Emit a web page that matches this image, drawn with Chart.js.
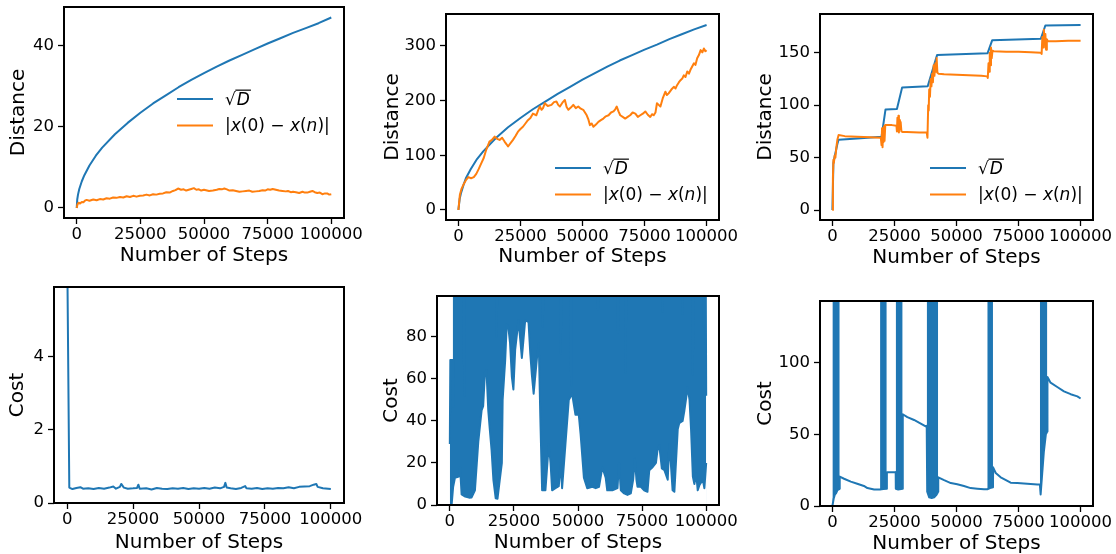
<!DOCTYPE html>
<html>
<head>
<meta charset="utf-8">
<script src="https://cdn.jsdelivr.net/npm/chart.js@4.4.0/dist/chart.umd.min.js"></script>
<style>
  html, body { margin: 0; padding: 0; background: #fff; overflow: hidden; width: 1116px; height: 554px; position: relative; }
  canvas { position: absolute; }
</style>
</head>
<body>
<script>
const BLUE = '#1f77b4';
const ORANGE = '#ff7f0e';

// shared x axis
const xTicks = [0, 25000, 50000, 75000, 100000];

// panel 1 (top left): distance
const p1Ticks = [0, 20, 40];
const p1SqrtX = [0, 200, 500, 1000, 2000, 3000, 5000, 7500, 10000, 15000, 20000, 25000, 30000, 35000, 40000, 45000, 50000, 55000, 60000, 65000, 70000, 75000, 80000, 85000, 90000, 95000, 100000];
const p1SqrtY = [0, 2.1, 3.3, 4.7, 6.6, 8.1, 10.5, 12.9, 14.9, 18.2, 21.0, 23.5, 25.8, 27.8, 29.8, 31.6, 33.3, 34.9, 36.4, 37.8, 39.2, 40.6, 41.9, 43.2, 44.4, 45.6, 47.0];
const p1AbsX = [
  0, 300, 700, 1300, 2000, 2600, 3200, 3900, 5000, 6500,
  7800, 9100, 10400, 11700, 13000, 14300, 15600, 17000, 18300, 19600,
  20900, 22200, 23500, 24800, 26100, 27400, 28700, 30000, 31300, 32600,
  33900, 35200, 36500, 37800, 38800, 39800, 41000, 42000, 43000, 44000,
  45000, 46000, 47000, 48000, 48900, 50000, 50800, 52000, 53500, 55000,
  56000, 57000, 58000, 59000, 60000, 61300, 62600, 63900, 65200, 66500,
  67800, 69000, 70400, 71700, 73000, 74000, 75000, 76000, 77000, 78200,
  79500, 80800, 82100, 83000, 84100, 85000, 86100, 87400, 88700, 89600,
  90600, 91600, 92600, 93500, 94500, 95500, 96500, 97500, 98400, 99200,
  100000];
const p1AbsY = [
  0, 0.9, 1.3, 1.1, 1.5, 1.4, 1.8, 2.0, 1.8, 2.1,
  1.9, 2.2, 2.1, 2.4, 2.3, 2.6, 2.5, 2.7, 2.6, 2.9,
  2.7, 3.0, 2.8, 3.0, 3.1, 3.3, 3.1, 3.4, 3.3, 3.5,
  3.6, 3.9, 3.8, 4.2, 4.4, 4.8, 4.5, 4.6, 4.3, 4.5,
  4.7, 4.9, 4.5, 4.6, 4.3, 4.5, 4.4, 4.2, 4.3, 4.5,
  4.7, 4.6, 4.8, 4.6, 4.3, 4.4, 4.2, 4.0, 4.1, 4.2,
  4.3, 4.0, 4.1, 4.2, 4.4, 4.3, 4.6, 4.5, 4.7, 4.5,
  4.3, 4.2, 4.1, 4.2, 3.9, 4.0, 3.9, 3.7, 4.0, 3.8,
  3.8, 4.0, 4.2, 3.9, 3.7, 3.8, 3.4, 3.6, 3.6, 3.3,
  3.4];

// panel 2 (top middle): distance
const p2Ticks = [0, 100, 200, 300];
const p2SqrtX = [0, 500, 1000, 2000, 3000, 5000, 7500, 10000, 15000, 20000, 25000, 30000, 35000, 40000, 45000, 50000, 55000, 60000, 65000, 70000, 75000, 80000, 85000, 90000, 95000, 100000];
const p2SqrtY = [0, 20, 30, 45, 58, 75, 93, 107, 131, 151, 168, 184, 198, 212, 225, 238, 250, 262, 273, 283, 293, 302, 312, 321, 330, 338];
const p2AbsX = [
  0, 600, 1200, 2000, 3100, 4000, 5100, 6200, 7200, 8200,
  9200, 10200, 11200, 12500, 13500, 14600, 15600, 16600, 17600, 18600,
  19400, 20000, 21000, 22000, 23000, 24000, 25000, 26000, 27000, 28000,
  29000, 30000, 31400, 32100, 32800, 33500, 34100, 34800, 36000, 37500,
  38500, 39500, 40200, 40900, 41900, 42900, 43600, 44300, 45300, 46300,
  47300, 48300, 49300, 50300, 51000, 51700, 52400, 53000, 53700, 54400,
  55400, 56400, 57400, 58400, 59400, 60500, 61500, 62500, 63200, 63800,
  64500, 65200, 66200, 67200, 68200, 69200, 70200, 71300, 72300, 73300,
  74300, 75300, 76300, 77300, 78000, 78700, 79400, 80000, 80700, 81400,
  82400, 83400, 84000, 84700, 85800, 86800, 87500, 88100, 88800, 89500,
  90200, 90800, 91500, 92200, 92900, 93500, 94200, 94900, 95500, 96200,
  96900, 97600, 98300, 98900, 99500, 100000];
const p2AbsY = [
  0, 28, 38, 46, 55, 60, 58, 60, 66, 75,
  85, 95, 110, 125, 128, 134, 130, 128, 132, 125,
  120, 116, 122, 128, 135, 143, 148, 152, 158, 164,
  168, 176, 173, 182, 189, 183, 186, 195, 190, 192,
  197, 198, 192, 189, 196, 201, 188, 183, 187, 192,
  186, 189, 185, 183, 178, 173, 165, 155, 158, 152,
  156, 161, 164, 167, 171, 173, 178, 180, 184, 189,
  180, 173, 170, 167, 170, 173, 178, 176, 170, 173,
  176, 180, 174, 170, 175, 173, 178, 195, 192, 189,
  205, 216, 210, 213, 220, 225, 222, 228, 233, 237,
  240, 246, 243, 253, 249, 256, 262, 268, 265, 277,
  283, 292, 288, 295, 290, 292];

// panel 3 (top right): distance
const p3Ticks = [0, 50, 100, 150];
const p3SqrtX = [0, 400, 1000, 2000, 2500, 10000, 19800, 21400, 26000, 28100, 38400, 42200, 62500, 64400, 84000, 85800, 100000];
const p3SqrtY = [0, 45, 52, 63, 67, 68.2, 70, 96, 96.3, 117, 118, 148, 149.5, 162, 163.5, 176, 176.6];
const p3AbsX = [
  0, 200, 400, 600, 900, 1200, 1600, 2000, 2500, 5000,
  10000, 15000, 19500, 19800, 20000, 20200, 20400, 20600, 20800, 21000,
  21300, 22000, 24000, 25800, 26000, 26200, 26400, 26600, 26800, 27000,
  27200, 27500, 27800, 28200, 30000, 35000, 38000, 38300, 38600, 38800,
  39000, 39300, 39600, 39900, 40200, 40500, 40800, 41100, 41500, 41800,
  42000, 42300, 42800, 45000, 50000, 55000, 60000, 62400, 62600, 62900,
  63100, 63400, 63600, 63900, 64200, 64500, 65000, 70000, 75000, 80000,
  84000, 84300, 84600, 84900, 85200, 85500, 85800, 86100, 86400, 86800,
  90000, 95000, 100000];
const p3AbsY = [
  0, 30, 48, 45, 52, 50, 60, 67, 71.5, 70.5,
  70, 69.5, 69, 62, 78, 60, 74, 65, 80, 66,
  81, 81, 81, 80.5, 75, 88, 76, 90, 74, 86,
  77, 84, 75, 74.5, 74.5, 74, 74, 69, 100, 95,
  115, 108, 125, 118, 130, 122, 138, 128, 140, 132,
  145, 131, 130, 129.5, 129, 128.5, 128, 127.5, 126, 140,
  132, 150, 138, 155, 145, 152, 151.5, 151, 151, 150.5,
  150, 149, 165, 155, 172, 160, 168, 153, 163, 161,
  161, 161.5, 161.5];

// panel 4 (bottom left): cost
const p4Ticks = [0, 2, 4];
const p4CostX = [
  0, 800, 2000, 3500, 5000, 6000, 8000, 10000, 12000, 14000,
  16000, 17500, 18500, 20000, 20500, 21500, 23000, 25000, 26500, 27000,
  27500, 30000, 32000, 34000, 36000, 38000, 40000, 42000, 44000, 46000,
  48000, 50000, 52000, 54000, 56000, 58000, 59500, 60000, 60500, 62000,
  64000, 66000, 67500, 68000, 70000, 72000, 74000, 76000, 78000, 80000,
  82000, 84000, 86000, 88000, 90000, 92000, 93500, 94500, 95000, 97000,
  100000];
const p4CostY = [
  7, 0.42, 0.38, 0.41, 0.43, 0.39, 0.40, 0.38, 0.41, 0.39,
  0.42, 0.45, 0.39, 0.44, 0.52, 0.42, 0.39, 0.40, 0.41, 0.50,
  0.39, 0.40, 0.37, 0.41, 0.39, 0.38, 0.40, 0.39, 0.41, 0.38,
  0.40, 0.39, 0.41, 0.39, 0.42, 0.40, 0.44, 0.55, 0.42, 0.40,
  0.38, 0.41, 0.46, 0.40, 0.39, 0.41, 0.38, 0.40, 0.39, 0.41,
  0.40, 0.43, 0.40, 0.44, 0.45, 0.46, 0.50, 0.52, 0.44, 0.40,
  0.38];

// panel 5 (bottom middle): cost, dense band read as lower / upper envelope
const p5Ticks = [0, 20, 40, 60, 80];
const p5LowX = [
  0, 700, 1300, 2000, 3500, 4000, 4600, 6000, 7500, 8500,
  9800, 11100, 12400, 13000, 13700, 14300, 15000, 15600, 16300, 17000,
  17900, 18600, 19300, 20300, 20600, 21600, 22200, 22800, 23500, 24200,
  24800, 25500, 26800, 28100, 29400, 30700, 31400, 32000, 32700, 33300,
  34000, 34700, 35300, 36000, 37300, 38600, 39300, 39900, 41200, 42500,
  43200, 43800, 45100, 46400, 47700, 49000, 50300, 51000, 52300, 53600,
  55600, 56900, 58200, 59500, 60800, 61400, 63400, 65400, 66000, 66700,
  68000, 69300, 70600, 71500, 72200, 72800, 73200, 74500, 75800, 77100,
  77800, 79100, 80400, 81000, 81700, 82700, 83700, 85000, 85600, 86200,
  86900, 87600, 88200, 88900, 89500, 90800, 91500, 92200, 92800, 93500,
  94100, 94800, 95400, 96100, 96700, 97400, 98700, 99300, 100000];
const p5LowY = [
  0, 0, 8.7, 13, 13.5, 18, 5, 4, 3.5, 3.6,
  7, 30, 45, 47, 63, 64, 45, 36, 26, 12,
  3.2, 3, 10, 20, 50, 69, 86, 85, 77, 61,
  55, 74, 88, 70, 88, 87, 72, 62, 53, 61,
  70, 77, 42, 7, 7, 29, 20, 7, 8, 9,
  20, 8, 29, 50, 53, 43, 43, 34, 13, 8,
  8.7, 8, 8.7, 18, 13, 7, 7, 8, 20, 7,
  5.5, 4.8, 5.5, 12, 22, 12, 8.7, 8.7, 7, 6.3,
  16.6, 18, 20, 26, 28.5, 17.4, 16.6, 12, 29, 20,
  7, 6.3, 20, 36, 39, 40, 45, 51, 56, 50,
  36, 13.5, 10, 15, 7, 9.5, 12, 8, 20];
const p5HighX = [0, 200, 900, 1000, 1500, 1600, 5300, 5600, 5900, 18000, 18300, 18600, 36000, 36300, 36600, 43000, 43300, 43600, 47000, 47300, 47600, 57500, 57800, 58100, 65300, 65600, 65900, 68300, 68600, 68900, 82700, 83000, 83300, 90500, 90800, 91100, 94500, 94800, 95100, 98800, 99100, 99400, 99800, 100000];
const p5HighY = [29, 69, 69, 47, 47, 120, 120, 52, 120, 120, 80, 120, 120, 85, 120, 120, 72, 120, 120, 57, 120, 120, 93, 120, 120, 82, 120, 120, 63, 120, 120, 92, 120, 120, 91, 120, 120, 62, 120, 120, 85, 120, 120, 52];

// panel 6 (bottom right): cost, decaying curve plus oscillating bursts
const p6Ticks = [0, 50, 100];
const p6CostX = [
  0, 500, 1000, 1500, 2000, 2900, 2950, 4700, 7400, 10000,
  12700, 14100, 16800, 19200, 20500, 21900, 21950, 25500, 25550, 26500,
  28300, 28350, 30200, 32900, 35600, 37600, 38000, 38200, 39000, 40000,
  41000, 42000, 42600, 42650, 45000, 47700, 50300, 53000, 55700, 58400,
  61100, 62400, 63500, 64700, 64750, 65800, 67800, 70500, 71800, 74500,
  78500, 82600, 83600, 83900, 84200, 85200, 86000, 86600, 86650, 87900,
  90600, 93300, 96000, 98700, 100000];
const p6CostY = [
  0, 5, 8, 9, 11, 12, 20.5, 19, 17, 15.5,
  14, 12.5, 11.5, 11.5, 11.8, 12, 23.5, 23.5, 12, 11.5,
  12, 64, 62, 60, 57.5, 55.5, 56, 10, 6, 5.5,
  6, 8, 10, 20, 18, 16, 15.2, 14, 12.5, 12,
  11.6, 11.6, 12.5, 13, 27, 23, 20, 17.5, 16.3, 16,
  15.5, 15, 15, 8, 15, 38, 50, 52, 90, 86,
  83, 80, 78, 76.5, 75];
const p6BurstStart = [0, 19200, 25500, 38000, 62400, 83600];
const p6BurstEnd = [2950, 21900, 28300, 42600, 64700, 86600];
const p6BurstPeak = [160, 160, 160, 160, 160, 160];

function pts(xs, ys) {
  return xs.map((x, i) => ({ x: x, y: ys[i] }));
}

const p6Bursts = [];
p6BurstStart.forEach((s, i) => {
  p6Bursts.push({ x: s, y: p6BurstPeak[i] }, { x: p6BurstEnd[i], y: p6BurstPeak[i] }, { x: p6BurstEnd[i] + 1, y: null });
});

Chart.defaults.font.family = "'DejaVu Sans', sans-serif";
Chart.defaults.color = '#000';

const SQRT_D = 'sqrt';
const ABS_LABEL = [['|', 0], ['x', 1], ['(0) \u2212 ', 0], ['x', 1], ['(', 0], ['n', 1], [')|', 0]];

// black box round the plot area, like matplotlib spines
const frame = {
  id: 'frame',
  afterDatasetsDraw(chart) {
    const { ctx, chartArea: a } = chart;
    ctx.save();
    ctx.strokeStyle = '#000';
    ctx.lineWidth = 2;
    ctx.strokeRect(a.left, a.top, a.right - a.left, a.bottom - a.top);
    ctx.restore();
  }
};

function drawLabel(ctx, label, x, y, size) {
  const base = y + size * 0.34;
  ctx.textBaseline = 'alphabetic';
  if (label === SQRT_D) {
    ctx.font = size + "px 'DejaVu Sans'";
    ctx.fillText('\u221a', x, base);
    const w1 = ctx.measureText('\u221a').width;
    ctx.font = 'italic ' + size + "px 'DejaVu Sans'";
    ctx.fillText('D', x + w1 + 1, base);
    const w2 = ctx.measureText('D').width;
    ctx.lineWidth = 1.2;
    ctx.strokeStyle = '#000';
    ctx.beginPath();
    ctx.moveTo(x + w1 - 0.5, base - size * 0.86);
    ctx.lineTo(x + w1 + w2 + 2, base - size * 0.86);
    ctx.stroke();
    return;
  }
  label.forEach(([t, it]) => {
    ctx.font = (it ? 'italic ' : '') + size + "px 'DejaVu Sans'";
    ctx.fillText(t, x, base);
    x += ctx.measureText(t).width;
  });
}

function legendPlugin(leg) {
  return {
    id: 'mplLegend',
    afterDatasetsDraw(chart) {
      if (!leg) return;
      const { ctx, chartArea: a } = chart;
      ctx.save();
      leg.items.forEach((it, i) => {
        const x = a.left + leg.dx;
        const y = a.top + leg.dy + i * 26.5;
        ctx.strokeStyle = it.color;
        ctx.lineWidth = 2;
        ctx.beginPath();
        ctx.moveTo(x, y);
        ctx.lineTo(x + 36, y);
        ctx.stroke();
        ctx.fillStyle = '#000';
        drawLabel(ctx, it.label, x + 48, y, 17);
      });
      ctx.restore();
    }
  };
}

const AX = 75, XH = 60, PT = 15, PR = 45;

function panel(p) {
  const [l, t, r, b] = p.box;
  const c = document.createElement('canvas');
  c.width = r - l + AX + PR;
  c.height = b - t + PT + XH;
  c.style.left = (l - AX) + 'px';
  c.style.top = (t - PT) + 'px';
  document.body.appendChild(c);

  const tickFont = { size: 16.5 };
  const grid = { display: true, drawOnChartArea: false, drawTicks: true, tickLength: 6, tickWidth: 1.3, tickColor: '#000' };

  new Chart(c, {
    type: 'line',
    data: { datasets: p.datasets },
    options: {
      responsive: false,
      animation: false,
      events: [],
      layout: { padding: { left: 0, top: PT, right: PR, bottom: 0 } },
      elements: {
        point: { radius: 0 },
        line: { borderWidth: 2, tension: 0, borderJoinStyle: 'round' }
      },
      plugins: { legend: { display: false }, tooltip: { enabled: false } },
      scales: {
        x: {
          type: 'linear',
          min: -5000,
          max: 105000,
          afterBuildTicks: s => { s.ticks = xTicks.map(v => ({ value: v })); },
          afterFit: s => { s.height = XH; s.paddingLeft = 0; s.paddingRight = 0; },
          ticks: { font: tickFont, color: '#000', padding: 1, maxRotation: 0, autoSkip: false, callback: v => String(v) },
          grid: grid,
          border: { display: false },
          title: { display: true, text: 'Number of Steps', font: { size: 20 }, color: '#000', padding: { top: 0, bottom: XH - p.xDist - 12 } }
        },
        y: {
          type: 'linear',
          min: p.yMin,
          max: p.yMax,
          afterBuildTicks: s => { s.ticks = p.yTicks.map(v => ({ value: v })); },
          afterFit: s => { s.width = AX; s.paddingTop = 0; s.paddingBottom = 0; },
          ticks: { font: tickFont, color: '#000', padding: 4, autoSkip: false, callback: v => String(v) },
          grid: grid,
          border: { display: false },
          title: { display: true, text: p.yTitle, font: { size: 20 }, color: '#000', padding: { top: AX - p.yDist - 12, bottom: 0 } }
        }
      }
    },
    plugins: [frame, legendPlugin(p.legend)]
  });
}

function distanceLegend(dx, dy) {
  return { dx: dx, dy: dy, items: [{ color: BLUE, label: SQRT_D }, { color: ORANGE, label: ABS_LABEL }] };
}

const line = (xs, ys, color, order) => ({ data: pts(xs, ys), borderColor: color, fill: false, order: order });

panel({
  box: [64, 7, 344, 218], yMin: -2.47, yMax: 49.6, yTicks: p1Ticks, yTitle: 'Distance', yDist: 44.8, xDist: 37.5,
  datasets: [line(p1SqrtX, p1SqrtY, BLUE, 1), line(p1AbsX, p1AbsY, ORANGE, 0)],
  legend: distanceLegend(113, 92)
});
panel({
  box: [446, 14, 719, 220], yMin: -18.3, yMax: 358, yTicks: p2Ticks, yTitle: 'Distance', yDist: 53.3, xDist: 36.5,
  datasets: [line(p2SqrtX, p2SqrtY, BLUE, 1), line(p2AbsX, p2AbsY, ORANGE, 0)],
  legend: distanceLegend(109, 154)
});
panel({
  box: [820, 14, 1093, 220], yMin: -9.5, yMax: 187, yTicks: p3Ticks, yTitle: 'Distance', yDist: 54.3, xDist: 37.5,
  datasets: [line(p3SqrtX, p3SqrtY, BLUE, 1), line(p3AbsX, p3AbsY, ORANGE, 0)],
  legend: distanceLegend(110, 154)
});
panel({
  box: [54, 287, 344, 503], yMin: 0, yMax: 5.89, yTicks: p4Ticks, yTitle: 'Cost', yDist: 36, xDist: 40,
  datasets: [line(p4CostX, p4CostY, BLUE, 0)]
});
panel({
  box: [437, 296, 719, 505], yMin: 0, yMax: 99.5, yTicks: p5Ticks, yTitle: 'Cost', yDist: 44.8, xDist: 38,
  datasets: [
    { data: pts(p5LowX, p5LowY), borderColor: BLUE, backgroundColor: '#fff', fill: 'origin', order: 0 },
    { data: pts(p5HighX, p5HighY), borderColor: BLUE, backgroundColor: BLUE, fill: 'origin', order: 1 }
  ]
});
panel({
  box: [820, 301, 1093, 506], yMin: 0, yMax: 143, yTicks: p6Ticks, yTitle: 'Cost', yDist: 54.7, xDist: 38,
  datasets: [
    { data: pts(p6CostX, p6CostY), borderColor: BLUE, backgroundColor: '#fff', fill: 'origin', order: 0 },
    { data: p6Bursts, borderColor: BLUE, backgroundColor: BLUE, fill: 'origin', borderWidth: 1.5, order: 1 }
  ]
});
</script>
</body>
</html>
